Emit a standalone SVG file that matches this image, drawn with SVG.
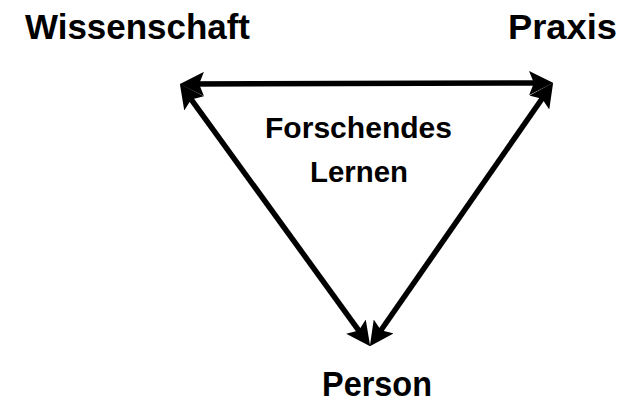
<svg xmlns="http://www.w3.org/2000/svg" width="630" height="406" viewBox="0 0 630 406">
<style>
.t{font-family:"Liberation Sans","DejaVu Sans",sans-serif;font-weight:bold;fill:#000}
.big{font-size:35px}
.mid{font-size:29px}
.c{stroke:#000;stroke-width:5.5;fill:none;marker-start:url(#ah);marker-end:url(#ah)}
</style>
<defs>
<marker id="ah" viewBox="0 0 10 10" refX="7" refY="5" markerWidth="4.4" markerHeight="4.4" orient="auto-start-reverse" markerUnits="strokeWidth">
<path d="M0,0 L10,5 L0,10 L2,5 Z" fill="#000"/>
</marker>
</defs>
<rect width="630" height="406" fill="#fff"/>
<g id="connectors">
<line class="c" x1="187" y1="84" x2="546" y2="83"/>
<line class="c" x1="365.9" y1="340.3" x2="184.1" y2="89.7"/>
<line class="c" x1="374" y1="340.3" x2="549" y2="88.7"/>
</g>
<g id="wissenschaft"><text class="t big" x="25" y="39" textLength="225" lengthAdjust="spacingAndGlyphs">Wissenschaft</text></g>
<g id="praxis"><text class="t big" x="508" y="39" textLength="109" lengthAdjust="spacingAndGlyphs">Praxis</text></g>
<g id="person"><text class="t big" x="322" y="396" textLength="110" lengthAdjust="spacingAndGlyphs">Person</text></g>
<g id="forschendes"><text class="t mid" x="265" y="138" textLength="187" lengthAdjust="spacingAndGlyphs">Forschendes</text><text class="t mid" x="310" y="182" textLength="98" lengthAdjust="spacingAndGlyphs">Lernen</text></g>
</svg>
